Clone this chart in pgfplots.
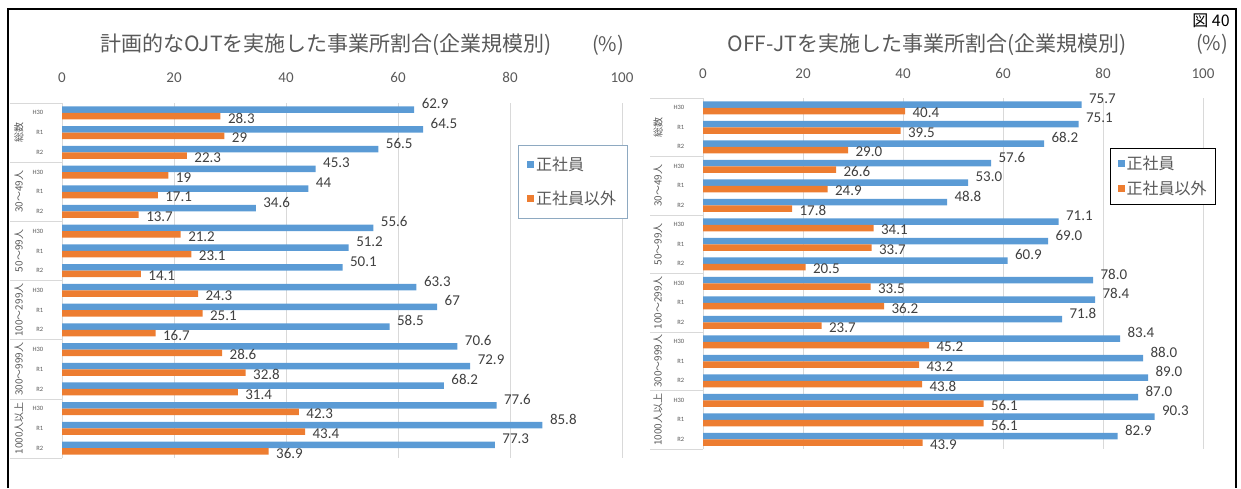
\documentclass[border=0pt]{standalone}
\usepackage{pgfplots}
\usepackage{pgfplotstable}
\pgfplotsset{compat=1.18}
\usepackage{fontspec}
\setmainfont{Carlito}
\newfontfamily\jp{Noto Sans CJK JP}
\definecolor{cblue}{HTML}{5B9BD5}
\definecolor{corange}{HTML}{ED7D31}
\definecolor{tgray}{HTML}{595959}
\definecolor{dgray}{HTML}{404040}
\definecolor{lgray}{HTML}{D9D9D9}
\definecolor{lbord}{HTML}{8EA9C1}

\pgfplotstableread{
idx reg non
0 62.9 28.3
1 64.5 29
2 56.5 22.3
3 45.3 19
4 44 17.1
5 34.6 13.7
6 55.6 21.2
7 51.2 23.1
8 50.1 14.1
9 63.3 24.3
10 67 25.1
11 58.5 16.7
12 70.6 28.6
13 72.9 32.8
14 68.2 31.4
15 77.6 42.3
16 85.8 43.4
17 77.3 36.9
}\ojt

\pgfplotstableread{
idx reg non
0 75.7 40.4
1 75.1 39.5
2 68.2 29.0
3 57.6 26.6
4 53.0 24.9
5 48.8 17.8
6 71.1 34.1
7 69.0 33.7
8 60.9 20.5
9 78.0 33.5
10 78.4 36.2
11 71.8 23.7
12 83.4 45.2
13 88.0 43.2
14 89.0 43.8
15 87.0 56.1
16 90.3 56.1
17 82.9 43.9
}\offjt

\pgfplotsset{
  mybar/.style={
    xbar, scale only axis, xmin=0, xmax=100, ymin=-0.5, ymax=17.5, y dir=reverse,
    axis line style={draw=none}, tick style={draw=none},
    xticklabel pos=upper, xtick={0,20,...,100},
    xmajorgrids, grid style={lgray, line width=0.8pt},
    ytick={0,...,17},
    yticklabels={H30,R1,R2,H30,R1,R2,H30,R1,R2,H30,R1,R2,H30,R1,R2,H30,R1,R2},
    yticklabel style={font=\fontsize{6.5}{7}\selectfont, text=tgray, xshift=-11pt},
    /pgf/number format/assume math mode=true,
    bar width=6.5pt,
    clip=false,
    point meta=x,
    nodes near coords style={font=\fontsize{15}{17}\selectfont, text=dgray, anchor=west, xshift=4pt},
    legend cell align=left,
  },
  blueplot/.style={fill=cblue, draw=none, bar shift=3.25pt,
    every node near coord/.append style={yshift=6pt},
    legend image code/.code={\fill[cblue] (0pt,-3.5pt) rectangle (7pt,3.5pt);}},
  orangeplot/.style={fill=corange, draw=none, bar shift=-3.25pt,
    every node near coord/.append style={yshift=-2pt},
    legend image code/.code={\fill[corange] (0pt,-3.5pt) rectangle (7pt,3.5pt);}},
}
\tikzset{grp/.style={rotate=90, font=\jp\fontsize{10}{11}\selectfont, text=tgray}}

\begin{document}
\begin{tikzpicture}
\path[use as bounding box] (0pt,0pt) rectangle (1241pt,488pt);
\draw[line width=1.6pt] (8pt,0pt) -- (8pt,479pt) -- (1236pt,479pt) -- (1236pt,0pt);

% ---------- left chart ----------
\begin{axis}[mybar, at={(62pt,30pt)}, anchor=south west, width=560pt, height=355pt,
  xticklabel style={font=\fontsize{15}{17}\selectfont, text=tgray, yshift=17pt},
  nodes near coords={\pgfmathprintnumber{\pgfplotspointmeta}},
  legend style={at={(axis description cs:0.814,0.882)}, anchor=north west,
    draw=lbord, line width=0.8pt, inner xsep=9pt, inner ysep=10pt, row sep=15pt,
    font=\jp\fontsize{16}{18}\selectfont, text=tgray}]
\addplot[blueplot] table[x=reg, y=idx] {\ojt};
\addlegendentry{正社員}
\addplot[orangeplot] table[x=non, y=idx] {\ojt};
\addlegendentry{正社員以外}
\draw[lgray] (axis cs:-9.3,-0.5) -- (axis cs:0,-0.5);
\draw[lgray] (axis cs:-9.3,2.5) -- (axis cs:0,2.5);
\draw[lgray] (axis cs:-9.3,5.5) -- (axis cs:0,5.5);
\draw[lgray] (axis cs:-9.3,8.5) -- (axis cs:0,8.5);
\draw[lgray] (axis cs:-9.3,11.5) -- (axis cs:0,11.5);
\draw[lgray] (axis cs:-9.3,14.5) -- (axis cs:0,14.5);
\draw[lgray] (axis cs:-9.3,17.5) -- (axis cs:0,17.5);
\node[grp] at (axis cs:-7.7,1) {総数};
\node[grp] at (axis cs:-7.7,4) {30～49人};
\node[grp] at (axis cs:-7.7,7) {50～99人};
\node[grp] at (axis cs:-7.7,10) {100～299人};
\node[grp] at (axis cs:-7.7,13) {300～999人};
\node[grp] at (axis cs:-7.7,16) {1000人以上};
\end{axis}

% ---------- right chart ----------
\begin{axis}[mybar, at={(703pt,39pt)}, anchor=south west, width=500pt, height=351pt,
  xticklabel style={font=\fontsize{15}{17}\selectfont, text=tgray, yshift=16pt},
  nodes near coords={\pgfmathprintnumber[fixed,fixed zerofill,precision=1]{\pgfplotspointmeta}},
  legend style={at={(axis description cs:0.814,0.858)}, anchor=north west,
    draw=black, line width=1.2pt, inner xsep=7pt, inner ysep=6pt, row sep=6pt,
    font=\jp\fontsize{16}{18}\selectfont, text=tgray}]
\addplot[blueplot] table[x=reg, y=idx] {\offjt};
\addlegendentry{正社員}
\addplot[orangeplot] table[x=non, y=idx] {\offjt};
\addlegendentry{正社員以外}
\draw[lgray] (axis cs:-10.6,-0.5) -- (axis cs:0,-0.5);
\draw[lgray] (axis cs:-10.6,2.5) -- (axis cs:0,2.5);
\draw[lgray] (axis cs:-10.6,5.5) -- (axis cs:0,5.5);
\draw[lgray] (axis cs:-10.6,8.5) -- (axis cs:0,8.5);
\draw[lgray] (axis cs:-10.6,11.5) -- (axis cs:0,11.5);
\draw[lgray] (axis cs:-10.6,14.5) -- (axis cs:0,14.5);
\draw[lgray] (axis cs:-10.6,17.5) -- (axis cs:0,17.5);
\node[grp] at (axis cs:-9.0,1) {総数};
\node[grp] at (axis cs:-9.0,4) {30～49人};
\node[grp] at (axis cs:-9.0,7) {50～99人};
\node[grp] at (axis cs:-9.0,10) {100～299人};
\node[grp] at (axis cs:-9.0,13) {300～999人};
\node[grp] at (axis cs:-9.0,16) {1000人以上};
\end{axis}

% ---------- titles ----------
\node[font=\jp\fontsize{21}{23}\selectfont, text=tgray] at (326pt,443pt) {計画的なOJTを実施した事業所割合(企業規模別)};
\node[font=\jp\fontsize{20}{22}\selectfont, text=tgray] at (608pt,443pt) {(\%)};
\node[font=\jp\fontsize{21}{23}\selectfont, text=tgray] at (927pt,443pt) {OFF-JTを実施した事業所割合(企業規模別)};
\node[font=\jp\fontsize{20}{22}\selectfont, text=tgray] at (1212pt,444pt) {(\%)};
\node[font=\jp\fontsize{16}{18}\selectfont] at (1211pt,467pt) {図 40};
\end{tikzpicture}
\end{document}
